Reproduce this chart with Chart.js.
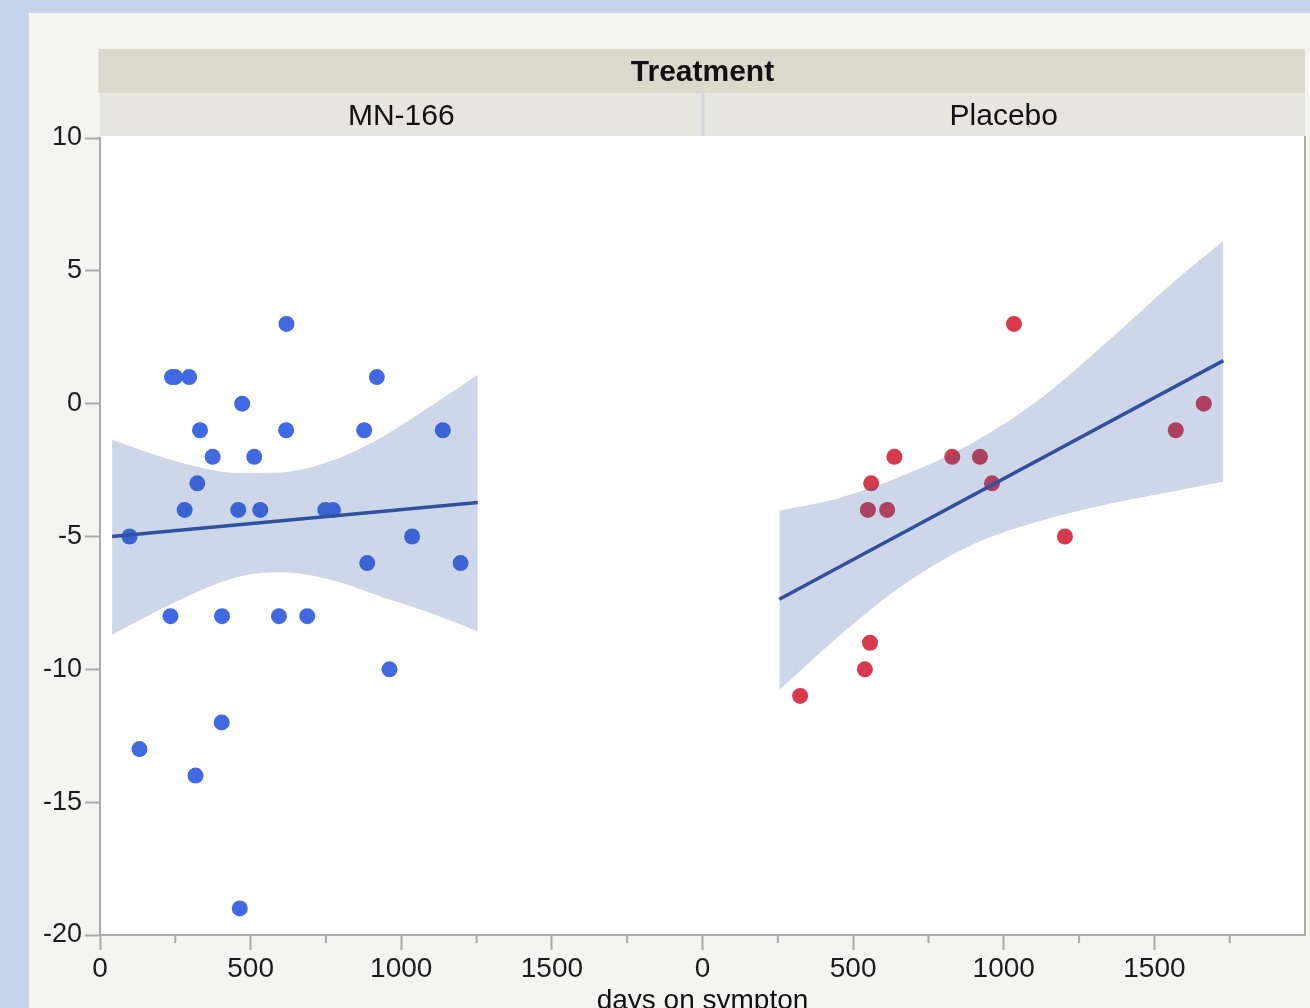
<!DOCTYPE html>
<html lang="en">
  <head>
    <meta charset="utf-8" />
    <title>days on sympton by Treatment</title>
    <style>
      * {
        margin: 0;
        padding: 0;
      }
      body {
        width: 1310px;
        height: 1008px;
        overflow: hidden;
        background: #c5d4ed;
        font-family: "Liberation Sans", Arial, sans-serif;
      }
      .frame {
        position: absolute;
        left: 29px;
        top: 13px;
        width: 1300px;
        height: 1100px;
        background: #f5f5f0;
      }
      .chartBox {
        position: absolute;
        left: 0;
        top: 0;
        width: 1310px;
        height: 1040px;
      }
    </style>
  </head>
  <body>
    <div class="frame"></div>
    <div class="chartBox">
      <canvas id="myChart"></canvas>
    </div>

    <script src="https://cdn.jsdelivr.net/npm/chart.js@4.4.0/dist/chart.umd.min.js"></script>

    <script>
      // panels
      const panels = ["MN-166", "Placebo"];
      const groupTitle = "Treatment";
      const xTitle = "days on sympton";

      // MN-166 points
      const daysA = [239, 249, 296, 919, 619, 472, 332, 618, 877, 1138, 374, 512, 323, 281, 459, 532, 748, 773, 98, 1036, 887, 1197, 234, 405, 594, 688, 961, 404, 131, 317, 464];
      const valA = [1, 1, 1, 1, 3, 0, -1, -1, -1, -1, -2, -2, -3, -4, -4, -4, -4, -4, -5, -5, -6, -6, -8, -8, -8, -8, -10, -12, -13, -14, -19];

      // Placebo points
      const daysB = [1034, 1664, 1571, 637, 829, 921, 560, 961, 549, 613, 1203, 556, 539, 324];
      const valB = [3, 0, -1, -2, -2, -2, -3, -3, -4, -4, -5, -9, -10, -11];

      // fit lines (ends) and confidence bands
      const fitDaysA = [40, 1254];
      const fitA = [-5.0, -3.72];
      const bandDaysA = [40, 266, 466, 599, 765, 931, 1097, 1254];
      const upperA = [-1.36, -2.21, -2.61, -2.59, -2.17, -1.29, -0.1, 1.09];
      const lowerA = [-8.7, -7.38, -6.5, -6.35, -6.63, -7.26, -7.88, -8.58];

      const fitDaysB = [255, 1729];
      const fitB = [-7.36, 1.62];
      const bandDaysB = [255, 452, 674, 896, 1117, 1339, 1561, 1729];
      const upperB = [-4.03, -3.56, -2.67, -1.48, 0.15, 2.28, 4.55, 6.13];
      const lowerB = [-10.77, -8.76, -6.76, -5.31, -4.43, -3.8, -3.31, -2.93];

      const yTicks = [-20, -15, -10, -5, 0, 5, 10];

      const zip = (xs, ys) => xs.map((x, i) => ({ x: x, y: ys[i] }));

      const axisGray = "#a9a9a9";
      const bandColor = "rgba(40, 80, 158, 0.23)";
      const fitColor = "rgb(48, 80, 160)";

      Chart.defaults.font.family = '"Liberation Sans", Arial, sans-serif';
      Chart.defaults.color = "#1c1c1c";

      const bandDataset = (xs, ys, axis, fill) => ({
        type: "line",
        data: zip(xs, ys),
        xAxisID: axis,
        yAxisID: "y",
        borderWidth: 0,
        pointRadius: 0,
        cubicInterpolationMode: "monotone",
        backgroundColor: bandColor,
        fill: fill,
        order: 1,
      });

      const fitDataset = (xs, ys, axis) => ({
        type: "line",
        data: zip(xs, ys),
        xAxisID: axis,
        yAxisID: "y",
        borderColor: fitColor,
        borderWidth: 3.5,
        pointRadius: 0,
        fill: false,
        order: 0,
      });

      const pointDataset = (xs, ys, axis, color) => ({
        type: "scatter",
        data: zip(xs, ys),
        xAxisID: axis,
        yAxisID: "y",
        backgroundColor: color,
        borderWidth: 0,
        pointRadius: 8,
        pointHoverRadius: 8,
        order: 2,
      });

      const data = {
        datasets: [
          fitDataset(fitDaysA, fitA, "x1"),
          fitDataset(fitDaysB, fitB, "x2"),
          bandDataset(bandDaysA, upperA, "x1", "+1"),
          bandDataset(bandDaysA, lowerA, "x1", false),
          bandDataset(bandDaysB, upperB, "x2", "+1"),
          bandDataset(bandDaysB, lowerB, "x2", false),
          pointDataset(daysA, valA, "x1", "rgb(65, 105, 225)"),
          pointDataset(daysB, valB, "x2", "rgb(214, 58, 76)"),
        ],
      };

      const xAxis = () => ({
        type: "linear",
        position: "bottom",
        stack: "panels",
        stackWeight: 1,
        min: 0,
        max: 2000,
        afterFit(scale) {
          scale.height = 105;
          scale.paddingLeft = 0;
          scale.paddingRight = 0;
        },
        border: { display: true, color: axisGray, width: 2 },
        grid: {
          drawOnChartArea: false,
          drawTicks: true,
          tickLength: 15,
          tickWidth: 2,
          tickColor: (ctx) =>
            ctx.tick && ctx.tick.value === 2000 ? "rgba(0,0,0,0)" : axisGray,
        },
        ticks: {
          stepSize: 500,
          autoSkip: false,
          maxRotation: 0,
          padding: 2,
          font: { size: 28 },
          callback: (v) => (v === 2000 ? "" : v),
        },
      });

      // shaded header strips, white plot area, right border
      const panelFrame = {
        id: "panelFrame",
        beforeDraw(chart) {
          const { ctx, chartArea, scales } = chart;
          const { left, right, top, bottom } = chartArea;
          ctx.save();
          ctx.fillStyle = "#ffffff";
          ctx.fillRect(left, top - 2, right - left, bottom - top + 2);

          ctx.fillStyle = "#dbd9cb";
          ctx.fillRect(left - 1.5, top - 89, right - left + 1.5, 44);
          ctx.fillStyle = "#e7e6de";
          ctx.fillRect(left, top - 45, right - left, 43);
          ctx.fillStyle = "#d5d5da";
          ctx.fillRect(scales.x1.right - 1, top - 45, 3, 43);

          ctx.fillStyle = "#111";
          ctx.textAlign = "center";
          ctx.textBaseline = "middle";
          ctx.font = 'bold 30px "Liberation Sans", Arial, sans-serif';
          ctx.fillText(groupTitle, (left + right) / 2, top - 65.5);
          ctx.font = '30px "Liberation Sans", Arial, sans-serif';
          ctx.fillText(panels[0], (scales.x1.left + scales.x1.right) / 2, top - 21);
          ctx.fillText(panels[1], (scales.x2.left + scales.x2.right) / 2, top - 21);
          ctx.restore();
        },
        afterDraw(chart) {
          const { ctx, chartArea, scales } = chart;
          ctx.save();
          ctx.strokeStyle = axisGray;
          ctx.lineWidth = 2;
          ctx.beginPath();
          ctx.moveTo(chartArea.right, chartArea.top - 2);
          ctx.lineTo(chartArea.right, chartArea.bottom + 1);
          // minor ticks
          ["x1", "x2"].forEach((id) => {
            [250, 750, 1250, 1750].forEach((v) => {
              const px = scales[id].getPixelForValue(v);
              ctx.moveTo(px, chartArea.bottom);
              ctx.lineTo(px, chartArea.bottom + 8);
            });
          });
          ctx.stroke();

          ctx.fillStyle = "#111";
          ctx.textAlign = "center";
          ctx.textBaseline = "alphabetic";
          ctx.font = '28px "Liberation Sans", Arial, sans-serif';
          ctx.fillText(xTitle, (chartArea.left + chartArea.right) / 2, 1009);
          ctx.restore();
        },
      };

      const config = {
        type: "scatter",
        data: data,
        options: {
          responsive: true,
          maintainAspectRatio: false,
          animation: false,
          layout: {
            autoPadding: false,
            padding: { top: 138, right: 5, bottom: 0, left: 0 },
          },
          scales: {
            x1: xAxis(),
            x2: xAxis(),
            y: {
              type: "linear",
              position: "left",
              min: -20,
              max: 10,
              afterFit(scale) {
                scale.width = 100;
              },
              afterBuildTicks(scale) {
                scale.ticks = yTicks.map((v) => ({ value: v }));
              },
              border: { display: true, color: axisGray, width: 2 },
              grid: {
                drawOnChartArea: false,
                tickLength: 15,
                tickWidth: 2,
                tickColor: axisGray,
              },
              ticks: {
                padding: 3,
                font: { size: 27 },
              },
            },
          },
          plugins: {
            legend: { display: false },
            tooltip: { enabled: false },
          },
        },
        plugins: [panelFrame],
      };

      const myChart = new Chart(document.getElementById("myChart"), config);
    </script>
  </body>
</html>
